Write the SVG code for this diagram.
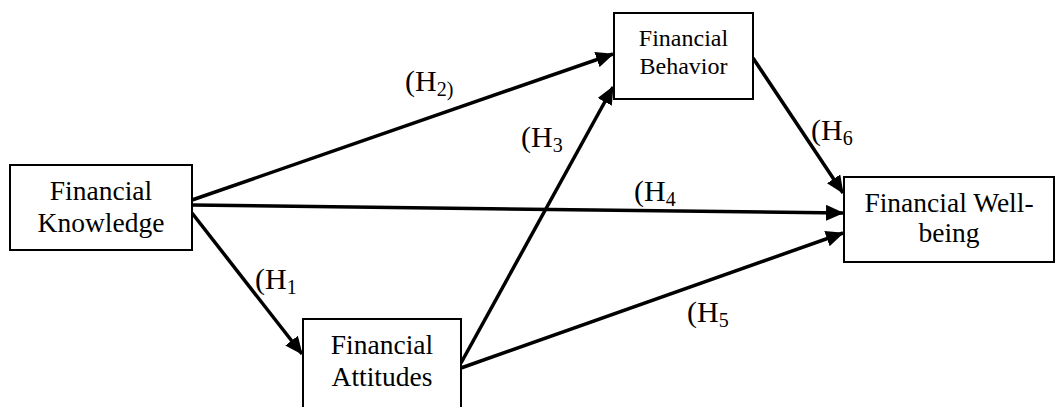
<svg xmlns="http://www.w3.org/2000/svg" width="1055" height="407" viewBox="0 0 1055 407">
<style>
.box{fill:#fff;stroke:#000;stroke-width:2}
.t{font-family:"Liberation Serif","Times New Roman",serif;font-size:27.5px;fill:#000;text-anchor:middle}
.ts{font-size:24px}
.lbl{font-family:"Liberation Serif","Times New Roman",serif;font-size:30px;fill:#000}
.sub{font-size:20px}
.c{stroke:#000;stroke-width:3.5;fill:none;marker-end:url(#ah)}
</style>
<defs>
<marker id="ah" markerUnits="userSpaceOnUse" markerWidth="18" markerHeight="16" viewBox="0 0 18 16" refX="17" refY="8" orient="auto">
<path d="M0,0 L18,8 L0,16 Z" fill="#000"/>
</marker>
</defs>
<rect width="1055" height="407" fill="#fff"/>
<g id="connectors">
<line class="c" x1="192" y1="200" x2="613" y2="54"/>
<line class="c" x1="192" y1="205" x2="843" y2="213"/>
<line class="c" x1="192" y1="213" x2="302" y2="354"/>
<line class="c" x1="461" y1="363" x2="613" y2="87"/>
<line class="c" x1="461" y1="368" x2="843" y2="233"/>
<line class="c" x1="753" y1="58" x2="843" y2="193"/>
</g>
<g id="labels">
<text class="lbl" x="405" y="91">(H<tspan class="sub" dy="5">2)</tspan></text>
<text class="lbl" x="521" y="147">(H<tspan class="sub" dy="5">3</tspan></text>
<text class="lbl" x="811" y="140">(H<tspan class="sub" dy="5">6</tspan></text>
<text class="lbl" x="634" y="201">(H<tspan class="sub" dy="5">4</tspan></text>
<text class="lbl" x="687" y="322">(H<tspan class="sub" dy="5">5</tspan></text>
<text class="lbl" x="255" y="289">(H<tspan class="sub" dy="5">1</tspan></text>
</g>
<g id="knowledge">
<rect class="box" x="10" y="165" width="182" height="85"/>
<text class="t" x="101" y="200">Financial</text>
<text class="t" x="101" y="232">Knowledge</text>
</g>
<g id="behavior">
<rect class="box" x="614" y="13" width="139" height="86"/>
<text class="t ts" x="683.5" y="46">Financial</text>
<text class="t ts" x="683.5" y="74">Behavior</text>
</g>
<g id="wellbeing">
<rect class="box" x="844" y="177" width="210" height="85"/>
<text class="t" x="949" y="212">Financial Well-</text>
<text class="t" x="949" y="242">being</text>
</g>
<g id="attitudes">
<rect class="box" x="303" y="319" width="158" height="100"/>
<text class="t" x="382" y="354">Financial</text>
<text class="t" x="382" y="386">Attitudes</text>
</g>
</svg>
